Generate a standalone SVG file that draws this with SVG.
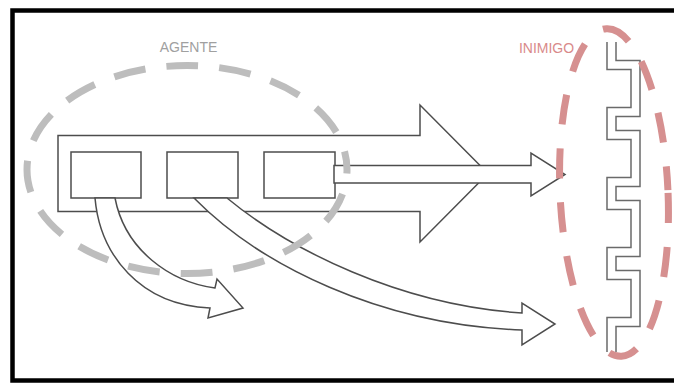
<svg xmlns="http://www.w3.org/2000/svg" width="674" height="385" viewBox="0 0 674 385">
  <style>
    .frame { fill: #ffffff; stroke: #000000; stroke-width: 4.5; }
    .outline { fill: #ffffff; stroke: #4d4d4d; stroke-width: 1.5; stroke-linejoin: miter; }
    .wall-edge { fill: none; stroke: #6a6a6a; stroke-width: 10.5; stroke-linejoin: miter; stroke-linecap: butt; }
    .wall-core { fill: none; stroke: #ffffff; stroke-width: 7.5; stroke-linejoin: miter; stroke-linecap: butt; }
    .group-ring { fill: none; stroke: #bdbdbd; stroke-width: 7; stroke-dasharray: 32 21; stroke-dashoffset: 28; }
    .enemy-ring { fill: none; stroke: #d69090; stroke-width: 7; stroke-dasharray: 30 24; stroke-dashoffset: -3; }
    .label { font-family: "Liberation Sans", Arial, sans-serif; font-size: 14px; text-anchor: middle; }
  </style>

  <!-- outer frame (runs off the right edge) -->
  <rect class="frame" x="12.5" y="10.5" width="680" height="370"/>

  <!-- agent: long arrow holding three cells -->
  <g id="agent-body">
    <polygon class="outline" points="58,135.5 420,135.5 420,105 488,173.5 420,242 420,211.5 58,211.5"/>
  </g>
  <g id="cell-1">
    <rect class="outline" x="71" y="152" width="70" height="46"/>
  </g>
  <g id="cell-2">
    <rect class="outline" x="167" y="152" width="71" height="46"/>
  </g>
  <g id="cell-3">
    <rect class="outline" x="264" y="152" width="71" height="46"/>
  </g>

  <!-- connectors -->
  <g id="connectors">
    <polygon class="outline" points="334,165.5 531,165.5 531,153 565,174.5 531,196 531,183 334,183"/>
    <path class="outline" d="M95,198 C100,255 140,305 210,308 L208,318 L243,308 L217,279 L215,288 C170,282 125,250 115,198 Z"/>
    <path class="outline" d="M227,198 C290,250 400,305 522,313 L522,303 L555,324 L522,345 L522,330 C380,325 260,265 194,198 Z"/>
  </g>

  <!-- enemy: crenellated wall -->
  <g id="enemy-wall">
    <path class="wall-edge" d="M611.5,42 V65 H635.5 V112 H611.5 V135 H635.5 V182 H611.5 V205 H635.5 V252 H611.5 V275 H635.5 V322 H611.5 V352"/>
    <path class="wall-core" d="M611.5,42 V65 H635.5 V112 H611.5 V135 H635.5 V182 H611.5 V205 H635.5 V252 H611.5 V275 H635.5 V322 H611.5 V352"/>
  </g>

  <!-- grouping rings and their labels -->
  <g id="agente">
    <ellipse class="group-ring" cx="187" cy="169.5" rx="160" ry="104"/>
    <text class="label" x="188.5" y="52" fill="#a0a0a0">AGENTE</text>
  </g>
  <g id="inimigo">
    <ellipse class="enemy-ring" cx="614" cy="192.5" rx="54" ry="164" transform="rotate(-2.6 614 192.5)"/>
    <text class="label" x="546.5" y="53" fill="#d98a8a">INIMIGO</text>
  </g>
</svg>
